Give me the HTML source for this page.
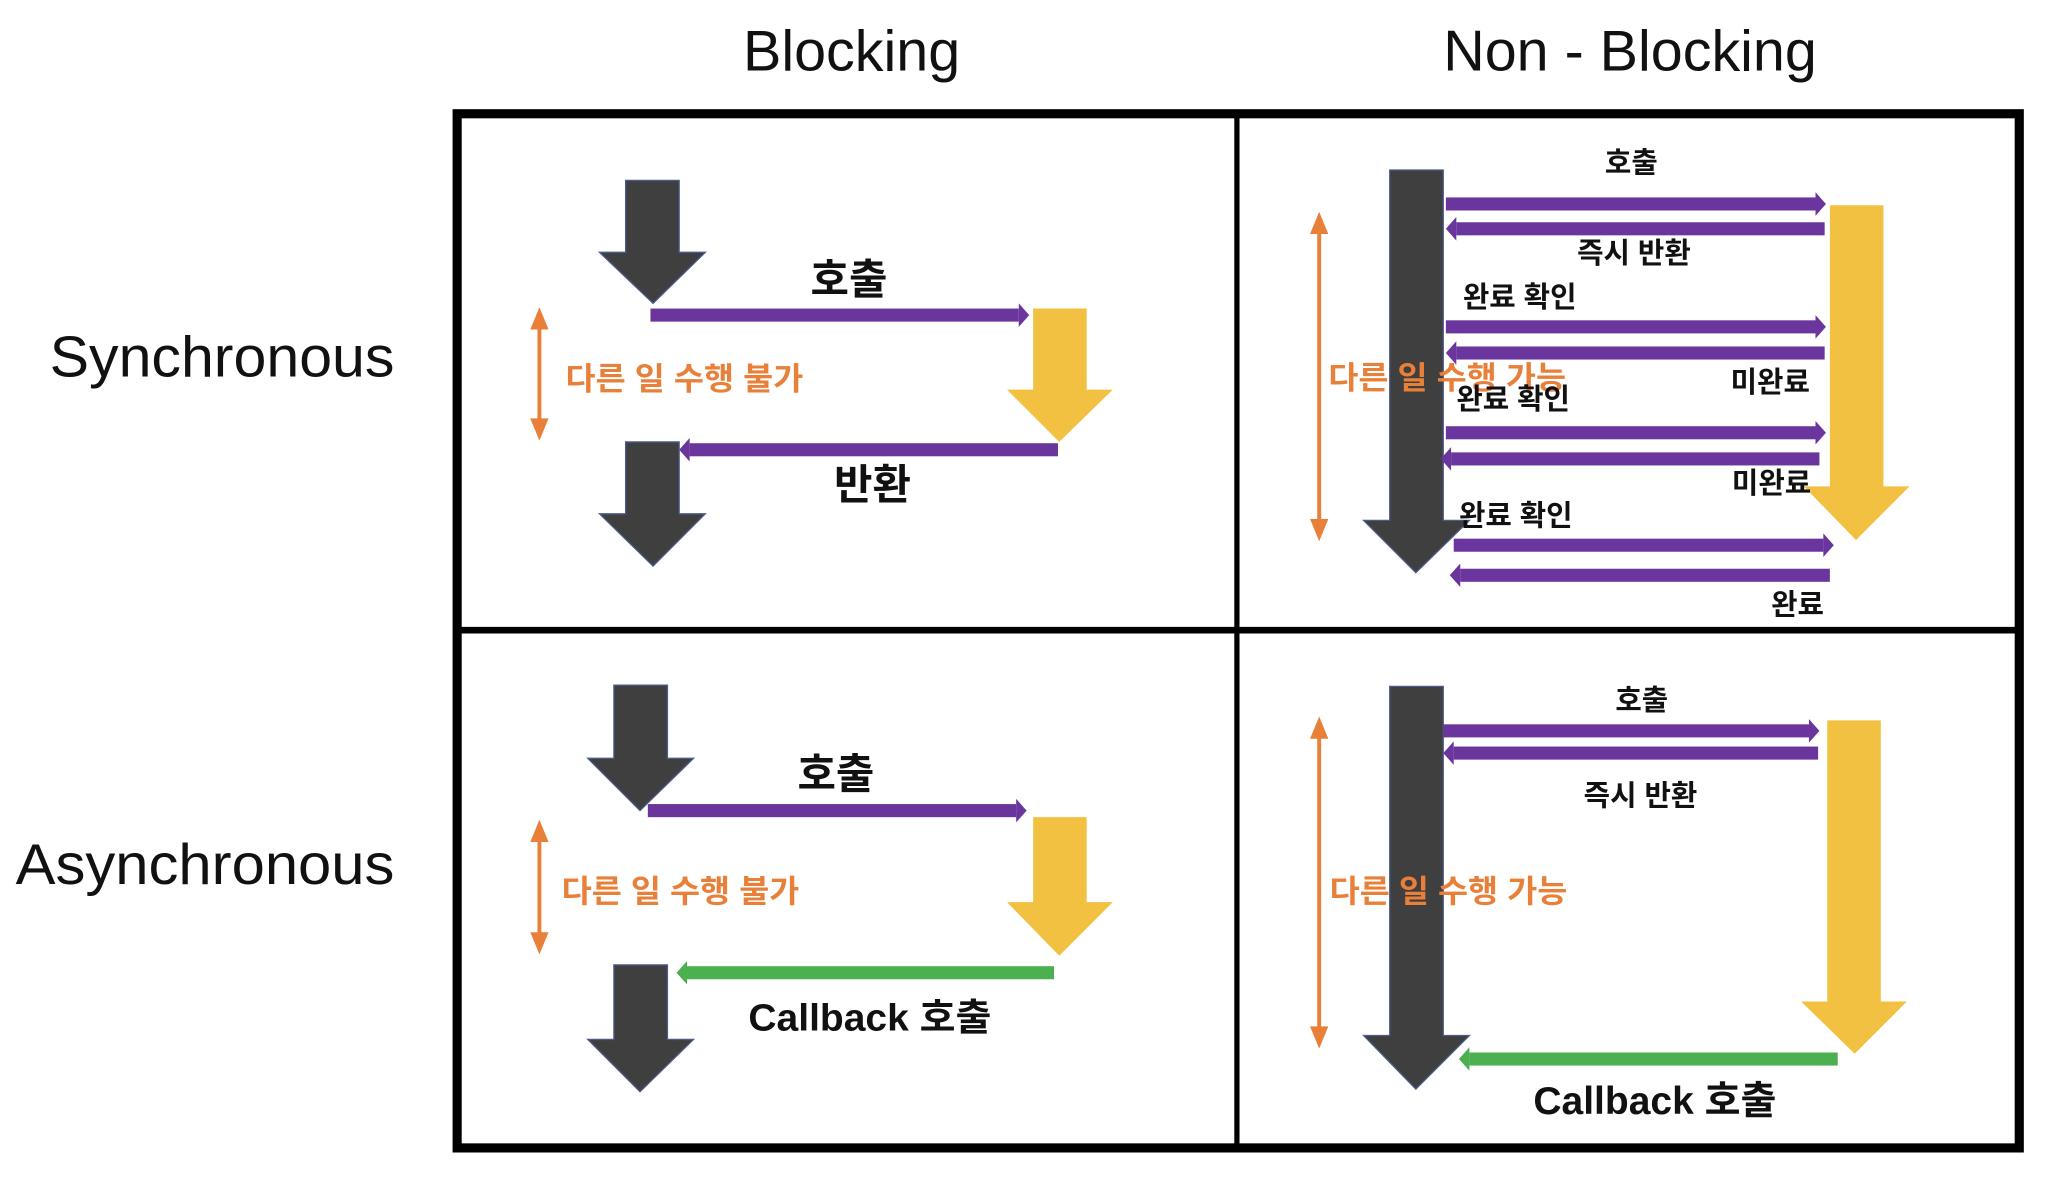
<!DOCTYPE html>
<html><head><meta charset="utf-8"><style>
html,body{margin:0;padding:0;background:#fff;}
svg{display:block;}
text{font-family:"Liberation Sans","Noto Sans CJK KR","NanumGothic",sans-serif;}
.h{font-size:44px;fill:#111;}
.k{font-weight:bold;fill:#111;}
.o{font-weight:bold;fill:#E8803A;font-size:24px;}
</style></head><body>
<svg width="2048" height="1178" viewBox="0 0 1568 901" preserveAspectRatio="none" xmlns="http://www.w3.org/2000/svg">
<!-- headers -->
<text class="h" x="652" y="54" text-anchor="middle">Blocking</text>
<text class="h" x="1248" y="54" text-anchor="middle">Non - Blocking</text>
<text class="h" x="302" y="288" text-anchor="end" textLength="264" lengthAdjust="spacingAndGlyphs">Synchronous</text>
<text class="h" x="302" y="676" text-anchor="end" textLength="290" lengthAdjust="spacingAndGlyphs">Asynchronous</text>
<!-- grid -->
<rect x="350" y="87" width="1196" height="791" fill="none" stroke="#000" stroke-width="7"/>
<line x1="947" y1="87" x2="947" y2="878" stroke="#000" stroke-width="4"/>
<line x1="350" y1="482" x2="1546" y2="482" stroke="#000" stroke-width="5"/>

<!-- Q1 -->
<polygon points="479,138 520,138 520,193 540,193 500,232 459,193 479,193" fill="#3F3F3F" stroke="#4A5C8A" stroke-width="1"/>
<rect x="498" y="236" width="282" height="10" fill="#6A359C"/>
<polygon points="780,232 788,241 780,250" fill="#6A359C"/>
<text class="k" x="650" y="225" font-size="32" text-anchor="middle">호출</text>
<polygon points="791,236 832,236 832,298 852,298 811,338 771,298 791,298" fill="#F2C141"/>
<line x1="413" y1="245" x2="413" y2="327" stroke="#E8803A" stroke-width="3"/>
<polygon points="406,252 413,235 420,252" fill="#E8803A"/>
<polygon points="406,320 413,337 420,320" fill="#E8803A"/>
<text class="o" x="433" y="298" textLength="182" lengthAdjust="spacingAndGlyphs">다른 일 수행 불가</text>
<rect x="528" y="339" width="282" height="10" fill="#6A359C"/>
<polygon points="528,335 520,344 528,353" fill="#6A359C"/>
<polygon points="479,338 520,338 520,393 540,393 500,433 459,393 479,393" fill="#3F3F3F" stroke="#4A5C8A" stroke-width="1"/>
<text class="k" x="668" y="382" font-size="32" text-anchor="middle">반환</text>

<!-- Q2 -->
<polygon points="1064,130 1105,130 1105,398 1125,398 1084,438 1044,398 1064,398" fill="#3F3F3F" stroke="#4A5C8A" stroke-width="1"/>
<polygon points="1401,157 1442,157 1442,372 1462,372 1421,413 1381,372 1401,372" fill="#F2C141"/>
<line x1="1010" y1="172" x2="1010" y2="404" stroke="#E8803A" stroke-width="3"/>
<polygon points="1003,179 1010,162 1017,179" fill="#E8803A"/>
<polygon points="1003,397 1010,414 1017,397" fill="#E8803A"/>
<g fill="#6A359C">
<rect x="1107" y="151" width="283" height="10"/><polygon points="1390,147 1398,156 1390,165"/>
<rect x="1115" y="170" width="282" height="10"/><polygon points="1115,166 1107,175 1115,184"/>
<rect x="1107" y="245" width="283" height="10"/><polygon points="1390,241 1398,250 1390,259"/>
<rect x="1115" y="265" width="282" height="10"/><polygon points="1115,261 1107,270 1115,279"/>
<rect x="1107" y="326" width="283" height="10"/><polygon points="1390,322 1398,331 1390,340"/>
<rect x="1111" y="346" width="282" height="10"/><polygon points="1111,342 1103,351 1111,360"/>
<rect x="1113" y="412" width="283" height="10"/><polygon points="1396,408 1404,417 1396,426"/>
<rect x="1118" y="435" width="283" height="10"/><polygon points="1118,431 1110,440 1118,449"/>
</g>
<text class="k" x="1249" y="132" font-size="22" text-anchor="middle">호출</text>
<text class="k" x="1251" y="201" font-size="22" text-anchor="middle">즉시 반환</text>
<text class="k" x="1120" y="235" font-size="22">완료 확인</text>
<text class="k" x="1325" y="300" font-size="22">미완료</text>
<text class="o" x="1017" y="297" textLength="182" lengthAdjust="spacingAndGlyphs">다른 일 수행 가능</text>
<text class="k" x="1115" y="313" font-size="22">완료 확인</text>
<text class="k" x="1326" y="377" font-size="22">미완료</text>
<text class="k" x="1117" y="402" font-size="22">완료 확인</text>
<text class="k" x="1356" y="470" font-size="22">완료</text>

<!-- Q3 -->
<polygon points="470,524 511,524 511,580 531,580 490,620 450,580 470,580" fill="#3F3F3F" stroke="#4A5C8A" stroke-width="1"/>
<rect x="496" y="615" width="282" height="10" fill="#6A359C"/>
<polygon points="778,611 786,620 778,629" fill="#6A359C"/>
<text class="k" x="640" y="603" font-size="32" text-anchor="middle">호출</text>
<polygon points="791,625 832,625 832,690 852,690 811,731 771,690 791,690" fill="#F2C141"/>
<line x1="413" y1="637" x2="413" y2="720" stroke="#E8803A" stroke-width="3"/>
<polygon points="406,644 413,627 420,644" fill="#E8803A"/>
<polygon points="406,713 413,730 420,713" fill="#E8803A"/>
<text class="o" x="430" y="690" textLength="182" lengthAdjust="spacingAndGlyphs">다른 일 수행 불가</text>
<rect x="526" y="739" width="281" height="10" fill="#4CAF50"/>
<polygon points="526,735 518,744 526,753" fill="#4CAF50"/>
<polygon points="470,738 511,738 511,795 531,795 490,835 450,795 470,795" fill="#3F3F3F" stroke="#4A5C8A" stroke-width="1"/>
<text class="k" x="666" y="788" font-size="29" text-anchor="middle" textLength="186" lengthAdjust="spacingAndGlyphs">Callback 호출</text>

<!-- Q4 -->
<polygon points="1064,525 1105,525 1105,792 1125,792 1084,833 1044,792 1064,792" fill="#3F3F3F" stroke="#4A5C8A" stroke-width="1"/>
<polygon points="1399,551 1440,551 1440,766 1460,766 1420,806 1379,766 1399,766" fill="#F2C141"/>
<line x1="1010" y1="558" x2="1010" y2="792" stroke="#E8803A" stroke-width="3"/>
<polygon points="1003,565 1010,548 1017,565" fill="#E8803A"/>
<polygon points="1003,785 1010,802 1017,785" fill="#E8803A"/>
<g fill="#6A359C">
<rect x="1105" y="554" width="280" height="10"/><polygon points="1385,550 1393,559 1385,568"/>
<rect x="1113" y="571" width="279" height="10"/><polygon points="1113,567 1105,576 1113,585"/>
</g>
<text class="k" x="1257" y="543" font-size="22" text-anchor="middle">호출</text>
<text class="k" x="1256" y="616" font-size="22" text-anchor="middle">즉시 반환</text>
<text class="o" x="1018" y="690" textLength="182" lengthAdjust="spacingAndGlyphs">다른 일 수행 가능</text>
<rect x="1125" y="805" width="282" height="10" fill="#4CAF50"/>
<polygon points="1125,801 1117,810 1125,819" fill="#4CAF50"/>
<text class="k" x="1267" y="852" font-size="30" text-anchor="middle" textLength="186" lengthAdjust="spacingAndGlyphs">Callback 호출</text>
</svg>
</body></html>
